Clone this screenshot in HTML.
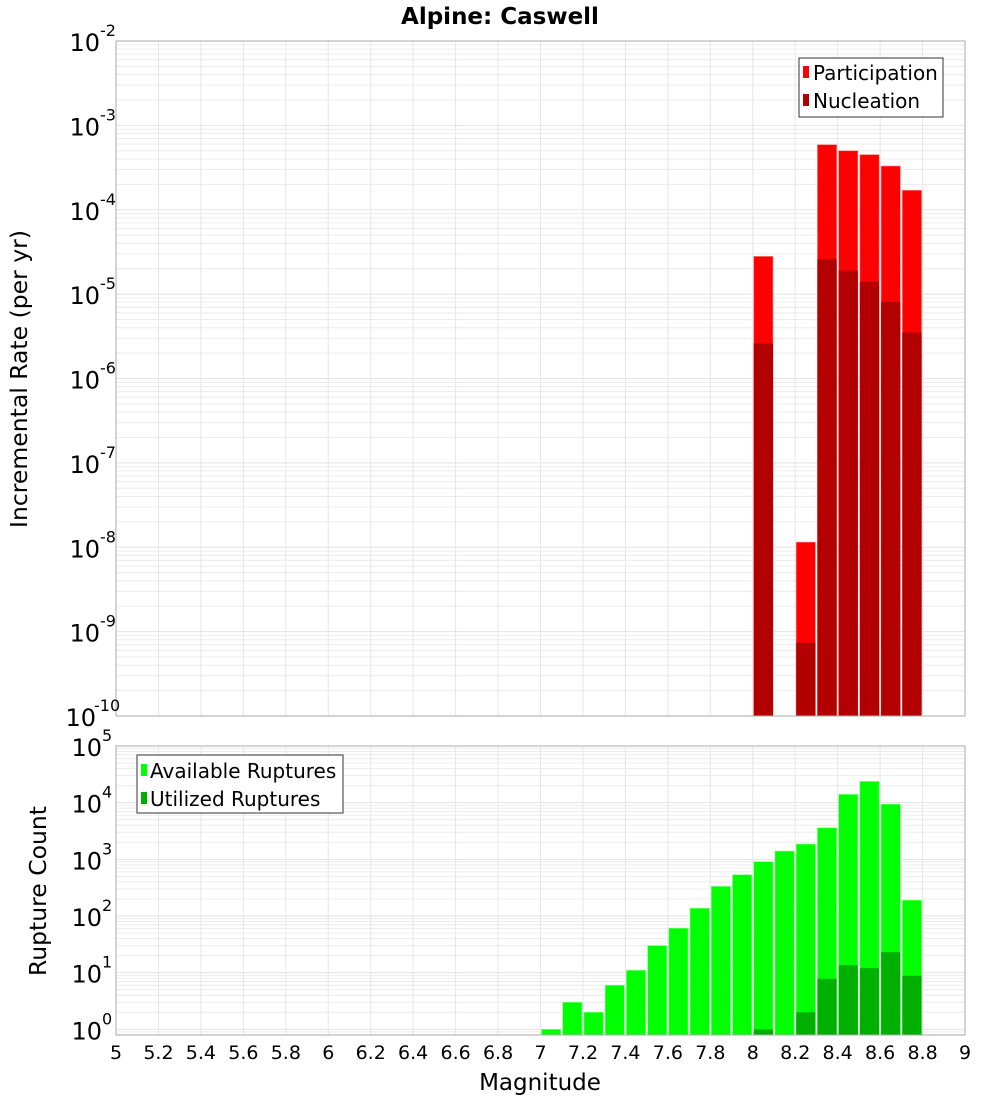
<!DOCTYPE html>
<html><head><meta charset="utf-8"><style>
body{margin:0;background:#fff;}
svg{display:block;font-family:"DejaVu Sans","Liberation Sans",sans-serif;}
</style></head><body>
<svg id="c" width="1000" height="1100" viewBox="0 0 1000 1100"></svg>
<script>
const mags = [7.0,7.1,7.2,7.3,7.4,7.5,7.6,7.7,7.8,7.9,8.0,8.1,8.2,8.3,8.4,8.5,8.6,8.7];
const rateMags = [8.0,8.2,8.3,8.4,8.5,8.6,8.7];
const participation = [2.8e-5,1.15e-8,5.9e-4,5.0e-4,4.5e-4,3.3e-4,1.7e-4];
const nucleation = [2.6e-6,7.4e-10,2.6e-5,1.9e-5,1.4e-5,8.1e-6,3.5e-6];
const available = [1,3,2,6,11,30,61,137,333,535,910,1400,1860,3600,14000,23700,9400,190];
const utilized = [0,0,0,0,0,0,0,0,0,0,1,0,2,7.8,13.6,12,23,8.8];
const xTicks = ["5","5.2","5.4","5.6","5.8","6","6.2","6.4","6.6","6.8","7","7.2","7.4","7.6","7.8","8","8.2","8.4","8.6","8.8","9"];
const topExps = [-2,-3,-4,-5,-6,-7,-8,-9,-10];
const botExps = [5,4,3,2,1,0];

const NS="http://www.w3.org/2000/svg";
const svg=document.getElementById('c');
function el(t,a,p){const e=document.createElementNS(NS,t);for(const k in a)e.setAttribute(k,a[k]);(p||svg).appendChild(e);return e;}
const X0=116,X1=965;
const x=m=>X0+(m-5)/4*(X1-X0);
const T0=41,T1=716;
const yTop=v=>T0+(-2-Math.log10(v))*(T1-T0)/8;
const B0=746,B1=1035,bmin=-0.1,bmax=5;
const yBot=v=>B1-(Math.log10(v)-bmin)*(B1-B0)/(bmax-bmin);

function grid(top,bot,lo,hi,yf,name){
  const g=el('g',{});
  
  
  for(let e=Math.floor(lo);e<hi;e++){for(let k=1;k<10;k++){const v=k*Math.pow(10,e);const yy=yf(v);if(yy<top-0.5||yy>bot+0.5)continue;el('line',{x1:X0,x2:X1,y1:yy,y2:yy,stroke:k==1?'#e2e2e2':'#ececec','stroke-width':1},g);}}
  for(let i=0;i<=20;i++){const xx=x(5+i*0.2);el('line',{x1:xx,x2:xx,y1:top,y2:bot,stroke:'#e6e6e6','stroke-width':1},g);}
}
el('rect',{x:X0,y:T0,width:X1-X0,height:T1-T0,fill:'#fff'});
el('rect',{x:X0,y:B0,width:X1-X0,height:B1-B0,fill:'#fff'});
grid(T0,T1,-10,-2,yTop,'top-grid');
grid(B0,B1,-1,5,yBot,'bottom-grid');

const bw=x(5.1)-x(5)-2;
rateMags.forEach((m,i)=>{
  const r=el('rect',{x:x(m)+1,y:yTop(participation[i]),width:bw,height:T1-yTop(participation[i]),fill:'#ff0000',stroke:'#ff8080','stroke-width':0.6});
  
  
  const n=el('rect',{x:x(m)+1,y:yTop(nucleation[i]),width:bw,height:T1-yTop(nucleation[i]),fill:'#b20000'});
  
  
});
mags.forEach((m,i)=>{
  const a=el('rect',{x:x(m)+1,y:yBot(available[i]),width:bw,height:B1-yBot(available[i]),fill:'#00ff00',stroke:'#80ff80','stroke-width':0.6});
  
  
  if(utilized[i]>0){
    const u=el('rect',{x:x(m)+1,y:yBot(utilized[i]),width:bw,height:B1-yBot(utilized[i]),fill:'#00b000'});
    
    
  }
});
el('rect',{x:X0,y:T0,width:X1-X0,height:T1-T0,fill:'none',stroke:'#aaa'});
el('rect',{x:X0,y:B0,width:X1-X0,height:B1-B0,fill:'none',stroke:'#aaa'});

function tickLabel(yy,e,name){
  const s=String(e);
  const bx=e<0?100:102;
  const t=el('text',{x:(e<=-10?bx-4:bx),y:yy+10,'text-anchor':'end','font-size':24,fill:'#000'});
  
  
  t.textContent='10';
  const s2=el('text',{x:(e<=-10?bx-6:bx),y:yy-5,'text-anchor':'start','font-size':16,fill:'#000'});
  s2.textContent=s;
  
  
}
topExps.forEach(e=>tickLabel(yTop(Math.pow(10,e)),e,'top-y-tick'));
botExps.forEach(e=>tickLabel(yBot(Math.pow(10,e)),e,'bottom-y-tick'));
xTicks.forEach(s=>{
  const t=el('text',{x:x(parseFloat(s)),y:1059,'text-anchor':'middle','font-size':19,fill:'#000'});
  
  
  t.textContent=s;
});
</script>
<div style="position:absolute;left:0;top:0;width:1000px;height:1100px;pointer-events:none">
<svg width="1000" height="1100" style="position:absolute;left:0;top:0">
<text x="500" y="24" text-anchor="middle" font-size="23" font-weight="bold">Alpine: Caswell</text>
<text x="540" y="1090" text-anchor="middle" font-size="23">Magnitude</text>
<text transform="translate(27,379) rotate(-90)" text-anchor="middle" font-size="23.5">Incremental Rate (per yr)</text>
<text transform="translate(46,891) rotate(-90)" text-anchor="middle" font-size="23.5">Rupture Count</text>
<g>
<rect x="799" y="58" width="144" height="59" fill="#fff" stroke="#333"/>
<rect x="803" y="66" width="6" height="12" fill="#ff0000"/>
<text x="813" y="80" font-size="20">Participation</text>
<rect x="803" y="94" width="6" height="12" fill="#b20000"/>
<text x="813" y="108" font-size="20">Nucleation</text>
</g>
<g>
<rect x="137" y="755" width="206" height="58" fill="#fff" stroke="#333"/>
<rect x="141" y="764" width="6" height="12" fill="#00ff00"/>
<text x="150" y="778" font-size="20">Available Ruptures</text>
<rect x="141" y="792" width="6" height="12" fill="#00b000"/>
<text x="150" y="806" font-size="20">Utilized Ruptures</text>
</g>
</svg></div>
</body></html>
